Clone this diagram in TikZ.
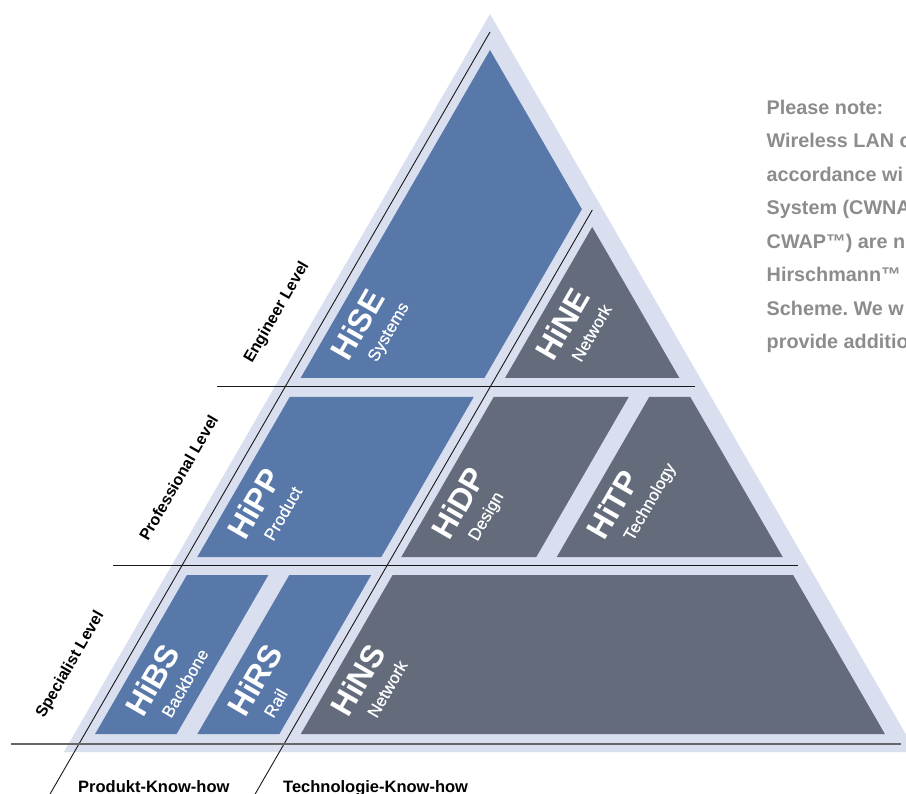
\documentclass[tikz,border=0pt]{standalone}
\usepackage{fontspec}
\setmainfont{Liberation Sans}
\usetikzlibrary{calc}
\definecolor{hiblue}{HTML}{5878AA}
\definecolor{higrey}{HTML}{646C7C}
\definecolor{hiband}{HTML}{D9DFEE}
\definecolor{hinote}{HTML}{8C8C8C}

\begin{document}
\begin{tikzpicture}[x=1pt, y=-1pt,
    big/.style={text=white, font=\bfseries\fontsize{32}{32}\selectfont,
                rotate=60, anchor=base west, inner sep=0pt},
    sub/.style={text=white, font=\fontsize{17}{17}\selectfont\addfontfeature{FakeBold=0.6},
                rotate=60, anchor=base west, inner sep=0pt},
    level/.style={text=black, font=\bfseries\fontsize{16}{16}\selectfont,
                  rotate=60, anchor=base west, inner sep=0pt},
    knowhow/.style={text=black, font=\bfseries\fontsize{16.5}{16.5}\selectfont,
                    anchor=base west, inner sep=0pt},
    note/.style={text=hinote, font=\frenchspacing\bfseries\fontsize{19.8}{19.8}\selectfont,
                 anchor=base west, inner sep=0pt},
    thin/.style={draw=black!90, line width=0.9pt},
    ground/.style={draw=black!60, line width=1.8pt}]
    \useasboundingbox (0,0) rectangle (906,794);
    \clip (0,0) rectangle (906,794);

    % PYRAMID
    \fill[hiband] (490,14) -- (916.1,752) -- (63.9,752) -- cycle;
    % engineer row
    \fill[hiblue] (490,50) -- (581.9,209.2) -- (484.4,378) -- (300.6,378) -- cycle;
    \fill[higrey] (592.2,227) -- (679.4,378) -- (505,378) -- cycle;
    % professional row
    \fill[hiblue] (289.7,397) -- (473.7,397) -- (381.3,557) -- (197.3,557) -- cycle;
    \fill[higrey] (493.7,397) -- (628.7,397) -- (536.3,557) -- (401.3,557) -- cycle;
    \fill[higrey] (649.2,397) -- (690.3,397) -- (782.7,557) -- (556.8,557) -- cycle;
    % specialist row
    \fill[hiblue] (186.9,575) -- (268.4,575) -- (176.6,734) -- (95.1,734) -- cycle;
    \fill[hiblue] (289.3,575) -- (371.2,575) -- (279.4,734) -- (197.4,734) -- cycle;
    \fill[higrey] (392.6,575) -- (793.1,575) -- (884.9,734) -- (300.8,734) -- cycle;

    % DIVIDERS
    \draw[thin] (490,32) -- (46.6,800);
    \draw[thin] (592.3,210) -- (251.7,800);
    \draw[thin] (217,386.5) -- (695,386.5);
    \draw[thin] (113,565.5) -- (798,565.5);
    \draw[ground] (11,744) -- (901,744);

    % COURSES
    \node[big] (hise) at (348.6,363) {HiSE};
    \node[sub] (hisesub) at ($(hise.base west)+(28,0)$) {Systems};
    \node[big] (hine) at (553,363) {HiNE};
    \node[sub] (hinesub) at ($(hine.base west)+(28,0)$) {Network};
    \node[big] (hipp) at (245.3,542) {HiPP};
    \node[sub] (hippsub) at ($(hipp.base west)+(28,0)$) {Product};
    \node[big] (hidp) at (449.3,542) {HiDP};
    \node[sub] (hidpsub) at ($(hidp.base west)+(28,0)$) {Design};
    \node[big] (hitp) at (604.8,542) {HiTP};
    \node[sub] (hitpsub) at ($(hitp.base west)+(28,0)$) {Technology};
    \node[big] (hibs) at (143.1,719) {HiBS};
    \node[sub] (hibssub) at ($(hibs.base west)+(28,0)$) {Backbone};
    \node[big] (hirs) at (245.4,719) {HiRS};
    \node[sub] (hirssub) at ($(hirs.base west)+(28,0)$) {Rail};
    \node[big] (hins) at (348.8,719) {HiNS};
    \node[sub] (hinssub) at ($(hins.base west)+(28,0)$) {Network};

    % LEVELS
    \node[level] (engineer) at (252,364) {Engineer Level};
    \node[level] (professional) at (148,542) {Professional Level};
    \node[level] (specialist) at (44,719) {Specialist Level};
    \node[knowhow] (produkt) at (78,792) {Produkt-Know-how};
    \node[knowhow] (technologie) at (283,792) {Technologie-Know-how};

    % NOTE
    \foreach \t [count=\i from 0] in {Please note:, Wireless LAN c, accordance wi,
        System (CWNA, CWAP™) are n, Hirschmann™, Scheme. We w, provide additio}
      \node[note] (note\i) at (766.5,114.5+33.5*\i) {\t};
\end{tikzpicture}
\end{document}
